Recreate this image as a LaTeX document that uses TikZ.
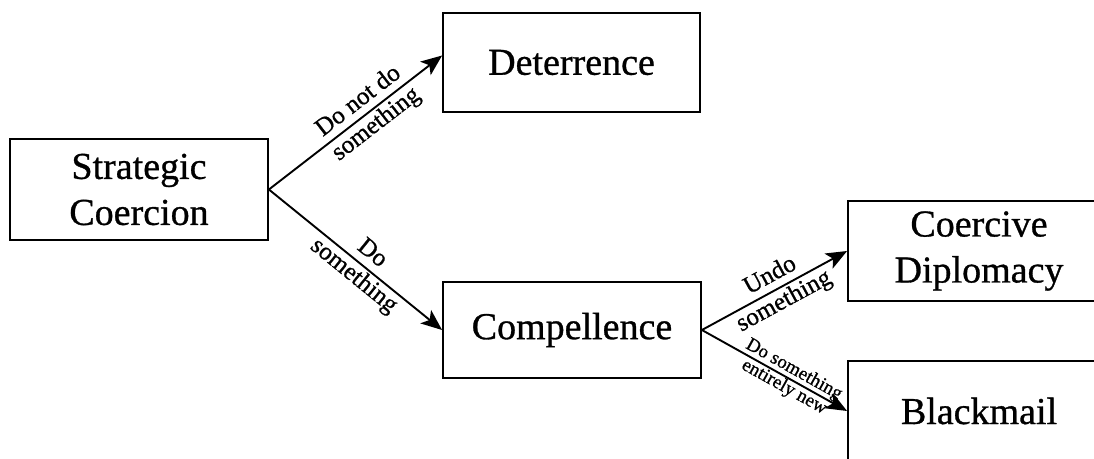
\documentclass[tikz,border=0pt]{standalone}
\usepackage{fontspec}
\setmainfont{Liberation Serif}[FakeBold=0.8]
\usetikzlibrary{arrows.meta}
\begin{document}
\begin{tikzpicture}[x=1pt,y=-1pt,
  box/.style={draw, line width=1.8pt, inner sep=0pt, align=center,
    font=\fontsize{38}{46}\selectfont},
  link/.style={line width=1.9pt,
    -{Stealth[length=21pt,width=17pt,inset=5pt]}},
  lab/.style={sloped, align=center, inner sep=0pt,
    font=\fontsize{25}{29}\selectfont},
  labsmall/.style={sloped, align=center, inner sep=0pt,
    font=\fontsize{19}{20}\selectfont}]
\useasboundingbox (0,0) rectangle (1094,458);
\clip (0,0) rectangle (1094,458);

% boxes
\node[box, minimum width=258pt, minimum height=101pt] (sc)   at (139,189.5) {Strategic\\Coercion};
\node[box, minimum width=257pt, minimum height=99pt]  (det)  at (571.5,62.5) {Deterrence};
\node[box, minimum width=258pt, minimum height=96pt]  (comp) at (572,330) {Compellence};
\node[box, minimum width=262pt, minimum height=100pt] (cd)   at (979,251) {Coercive\\Diplomacy};
\node[box, minimum width=262pt, minimum height=100pt] (bm)   at (979,411) {Blackmail};

% connectors
\draw[link] (sc.east) -- ([yshift=7pt]det.west)
  node[lab, pos=0.57] {Do not do\\something};
\draw[link] (sc.east) -- (comp.west)
  node[lab, pos=0.54] {Do\\something};
\draw[link] (comp.east) -- (cd.west)
  node[lab, pos=0.52] {Undo\\something};
\draw[link] (comp.east) -- (bm.west)
  node[labsmall, pos=0.6] {Do something\\entirely new};
\end{tikzpicture}
\end{document}
